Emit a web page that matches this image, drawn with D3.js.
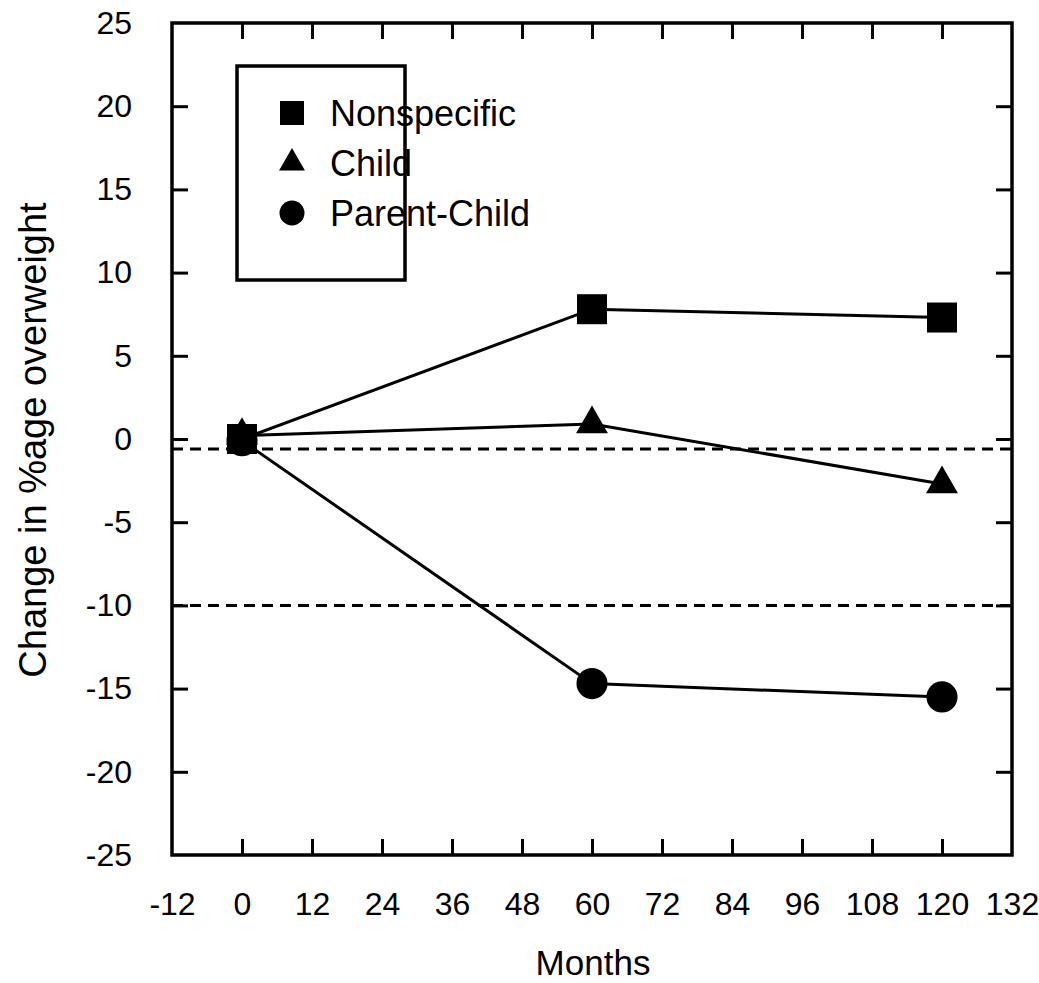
<!DOCTYPE html>
<meta charset="utf-8">
<style>
  body {
    margin: 0;
    background-color: white;
  }
  text {
    font-family: "Liberation Sans", Arial, sans-serif;
    fill: #000;
  }
  .frame {
    fill: none;
    stroke: #000;
    stroke-width: 3.5;
  }
  .series-line {
    fill: none;
    stroke: #000;
    stroke-width: 3;
  }
  .ref-line {
    stroke: #000;
    stroke-width: 3;
    stroke-dasharray: 11 7;
  }
  .axis path {
    display: none;
  }
  .axis line {
    stroke: #000;
    stroke-width: 3;
  }
  .axis text {
    font-size: 32px;
  }
</style>
<body>
  <div id="chart"></div>

  <script src="https://cdn.jsdelivr.net/npm/d3@7"></script>
  <script>
    // values
    const months = [0, 60, 120];
    const nonspecific = [0, 7.8, 7.3];
    const child = [0.2, 0.9, -2.7];
    const parentChild = [-0.1, -14.7, -15.5];
    const seriesNames = ["Nonspecific", "Child", "Parent-Child"];
    const xTicks = [-12, 0, 12, 24, 36, 48, 60, 72, 84, 96, 108, 120, 132];
    const yTicks = [-25, -20, -15, -10, -5, 0, 5, 10, 15, 20, 25];
    const refLines = [-0.6, -10];

    const width = 1039;
    const height = 983;
    const margin = { top: 23, right: 27, bottom: 128, left: 172 };

    const svg = d3.select("#chart")
      .append("svg")
      .attr("width", width)
      .attr("height", height);

    const x = d3.scaleLinear()
      .domain([-12, 132])
      .range([margin.left, width - margin.right]);

    const y = d3.scaleLinear()
      .domain([-25, 25])
      .range([height - margin.bottom, margin.top]);

    const tickLen = 16;
    const plain = d => String(d);

    // bottom axis with labels, ticks pointing inward
    svg.append("g")
      .attr("class", "axis")
      .attr("transform", `translate(0,${y(-25)})`)
      .call(d3.axisBottom(x).tickValues(xTicks).tickFormat(plain)
        .tickSizeInner(-tickLen).tickSizeOuter(0).tickPadding(tickLen + 21))
      .selectAll("line").filter(d => d === -12 || d === 132).remove();

    // top axis, ticks only
    svg.append("g")
      .attr("class", "axis")
      .attr("transform", `translate(0,${y(25)})`)
      .call(d3.axisTop(x).tickValues(xTicks).tickSizeInner(-tickLen).tickSizeOuter(0).tickFormat(""))
      .selectAll("line").filter(d => d === -12 || d === 132).remove();

    // left axis with labels
    svg.append("g")
      .attr("class", "axis")
      .attr("transform", `translate(${x(-12)},0)`)
      .call(d3.axisLeft(y).tickValues(yTicks).tickFormat(plain)
        .tickSizeInner(-tickLen).tickSizeOuter(0).tickPadding(tickLen + 24))
      .selectAll("line").filter(d => d === -25 || d === 25).remove();

    // right axis, ticks only
    svg.append("g")
      .attr("class", "axis")
      .attr("transform", `translate(${x(132)},0)`)
      .call(d3.axisRight(y).tickValues(yTicks).tickSizeInner(-tickLen).tickSizeOuter(0).tickFormat(""))
      .selectAll("line").filter(d => d === -25 || d === 25).remove();

    // plot frame
    svg.append("rect")
      .attr("class", "frame")
      .attr("x", x(-12))
      .attr("y", y(25))
      .attr("width", x(132) - x(-12))
      .attr("height", y(-25) - y(25));

    // dashed reference lines
    svg.selectAll(".ref-line")
      .data(refLines)
      .join("line")
      .attr("class", "ref-line")
      .attr("x1", x(-12))
      .attr("x2", x(132))
      .attr("y1", d => y(d))
      .attr("y2", d => y(d));

    const series = [
      { name: seriesNames[2], values: parentChild, symbol: d3.symbolCircle, size: 760, legendSize: 490 },
      { name: seriesNames[1], values: child, symbol: d3.symbolTriangle, size: 440, legendSize: 290 },
      { name: seriesNames[0], values: nonspecific, symbol: d3.symbolSquare, size: 900, legendSize: 576 }
    ];

    const line = d3.line()
      .x((d, i) => x(months[i]))
      .y(d => y(d));

    series.forEach(s => {
      svg.append("path")
        .datum(s.values)
        .attr("class", "series-line")
        .attr("d", line);
    });

    series.forEach(s => {
      svg.append("g")
        .selectAll("path")
        .data(s.values)
        .join("path")
        .attr("transform", (d, i) => `translate(${x(months[i])},${y(d)})`)
        .attr("d", d3.symbol().type(s.symbol).size(s.size))
        .attr("fill", "#000");
    });

    // legend
    const legend = svg.append("g");
    legend.append("rect")
      .attr("class", "frame")
      .attr("x", 237)
      .attr("y", 66)
      .attr("width", 168)
      .attr("height", 214);

    const legendRows = series.slice().reverse();
    legendRows.forEach((s, i) => {
      const cy = 113 + i * 50;
      legend.append("path")
        .attr("transform", `translate(292,${cy})`)
        .attr("d", d3.symbol().type(s.symbol).size(s.legendSize))
        .attr("fill", "#000");
      legend.append("text")
        .attr("x", 330)
        .attr("y", cy)
        .attr("dy", "0.36em")
        .style("font-size", "36px")
        .text(s.name);
    });

    // axis titles
    svg.append("text")
      .attr("x", 593)
      .attr("y", 975)
      .attr("text-anchor", "middle")
      .style("font-size", "35px")
      .text("Months");

    svg.append("text")
      .attr("transform", `translate(46,440) rotate(-90)`)
      .attr("text-anchor", "middle")
      .style("font-size", "38px")
      .text("Change in %age overweight");
  </script>
</body>
</html>
